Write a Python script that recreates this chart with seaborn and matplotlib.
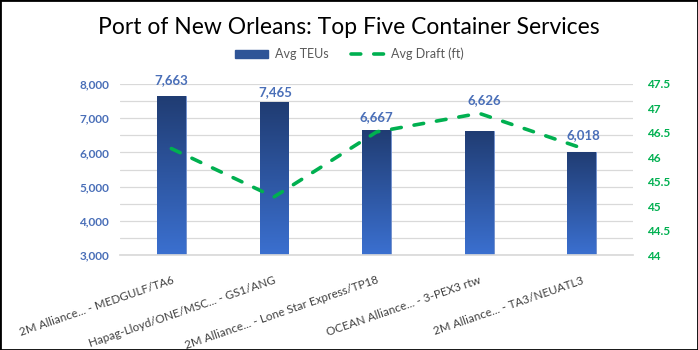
import numpy as np
import pandas as pd
import matplotlib
matplotlib.use("Agg")
import matplotlib.pyplot as plt
import matplotlib.patches as mpatches
from matplotlib.lines import Line2D
from matplotlib.colors import LinearSegmentedColormap
import seaborn as sns

services = [
    "2M Alliance... - MEDGULF/TA6",
    "Hapag-Lloyd/ONE/MSC... - GS1/ANG",
    "2M Alliance... - Lone Star Express/TP18",
    "OCEAN Alliance... - 3-PEX3 rtw",
    "2M Alliance... - TA3/NEUATL3",
]
avg_teus = [7663, 7465, 6667, 6626, 6018]
avg_draft = [46.18, 45.19, 46.52, 46.9, 46.19]
teu_ticks = [3000, 4000, 5000, 6000, 7000, 8000]
draft_ticks = [44, 44.5, 45, 45.5, 46, 46.5, 47, 47.5]

BLUE_TXT = "#4A6FB8"
GREEN = "#00B050"
GRID = "#D9D9D9"

sns.set_theme(style="white")
plt.rcParams["font.family"] = ["Lato", "DejaVu Sans"]

df = pd.DataFrame({"service": services, "teus": avg_teus, "draft": avg_draft})

fig, ax = plt.subplots(figsize=(6.98, 3.5), dpi=100)
fig.subplots_adjust(left=0.172, right=0.907, top=0.76, bottom=0.271)

sns.barplot(df, x="service", y="teus", ax=ax, width=0.28, color="#2F5597",
            saturation=1, zorder=2)

# vertical gradient in every bar
cmap = LinearSegmentedColormap.from_list("bars", ["#3B70D0", "#203C72"])
grad = np.linspace(0, 1, 256).reshape(-1, 1)
for p in ax.patches:
    x0, w, top = p.get_x(), p.get_width(), p.get_y() + p.get_height()
    im = ax.imshow(grad, cmap=cmap, origin="lower", aspect="auto",
                   extent=(x0, x0 + w, 3000, top), zorder=2.1)
    im.set_clip_path(p)
    p.set_edgecolor("#6F8FCF")
    p.set_linewidth(0.6)
ax.set_xlim(-0.5, 4.5)
ax.set_ylim(3000, 8000)

# data labels (hand-placed in the original, so offsets vary a bit)
label_offsets = [(0, 6.5), (1, 2.7), (0, 4.5), (4, 18), (1, 8)]
for p, v, (dx, dy) in zip(ax.patches, avg_teus, label_offsets):
    ax.annotate(f"{v:,}", xy=(p.get_x() + p.get_width() / 2, p.get_y() + p.get_height()),
                xytext=(dx, dy), textcoords="offset points", ha="center", va="bottom",
                color=BLUE_TXT, fontsize=9.5, fontweight="bold", zorder=5)

ax.set_yticks(teu_ticks)
ax.set_yticklabels([f"{v:,}" for v in teu_ticks], color=BLUE_TXT,
                   fontsize=8.5, fontweight="bold")
ax.set_yticks(np.arange(3500, 8000, 1000), minor=True)
ax.yaxis.grid(True, which="both", color=GRID, linewidth=0.9, zorder=0)
ax.set_axisbelow(True)
ax.tick_params(axis="y", which="both", length=0, pad=8)

ax.set_xticks(range(len(services)))
ax.set_xticklabels(services, rotation=19, ha="right", rotation_mode="anchor",
                   fontsize=8.4, color="#404040")
ax.set_xticks(np.arange(-0.5, 5, 1), minor=True)
ax.tick_params(axis="x", which="major", length=0, pad=14)
ax.tick_params(axis="x", which="minor", length=5, color=GRID, width=0.9)
ax.set_xlabel("")
ax.set_ylabel("")
for s in ["left", "right", "top"]:
    ax.spines[s].set_visible(False)
ax.spines["bottom"].set_color(GRID)

ax2 = ax.twinx()
sns.lineplot(x=services, y=avg_draft, ax=ax2, color=GREEN, linewidth=2.6,
             linestyle=(0, (2.7, 3.6)), dash_capstyle="round", sort=False)
ax2.set_ylim(44, 47.5)
ax2.set_yticks(draft_ticks)
ax2.set_yticklabels([f"{v:g}" for v in draft_ticks], color=GREEN,
                    fontsize=8.5, fontweight="bold")
ax2.tick_params(axis="y", length=0, pad=10)
ax2.set_ylabel("")
for s in ["left", "right", "top", "bottom"]:
    ax2.spines[s].set_visible(False)

fig.text(0.5, 1 - 27 / 350, "Port of New Orleans: Top Five Container Services",
         ha="center", va="center", fontsize=16.5, color="black")

handles = [mpatches.Patch(color="#2F5597"),
           Line2D([0], [0], color=GREEN, linewidth=2.6, linestyle=(0, (2.7, 3.6)),
                  dash_capstyle="round")]
fig.legend(handles, ["Avg TEUs", "Avg Draft (ft)"], loc="center",
           bbox_to_anchor=(0.5, 1 - 54 / 350), ncol=2, frameon=False,
           fontsize=9, labelcolor="#595959", handlelength=2.7,
           handleheight=0.6, columnspacing=1.8, handletextpad=0.5)

fig.patches.append(mpatches.Rectangle((0, 0), 1, 1, transform=fig.transFigure,
                                      fill=False, edgecolor="black", linewidth=2))

plt.savefig("out.png", dpi=100)
